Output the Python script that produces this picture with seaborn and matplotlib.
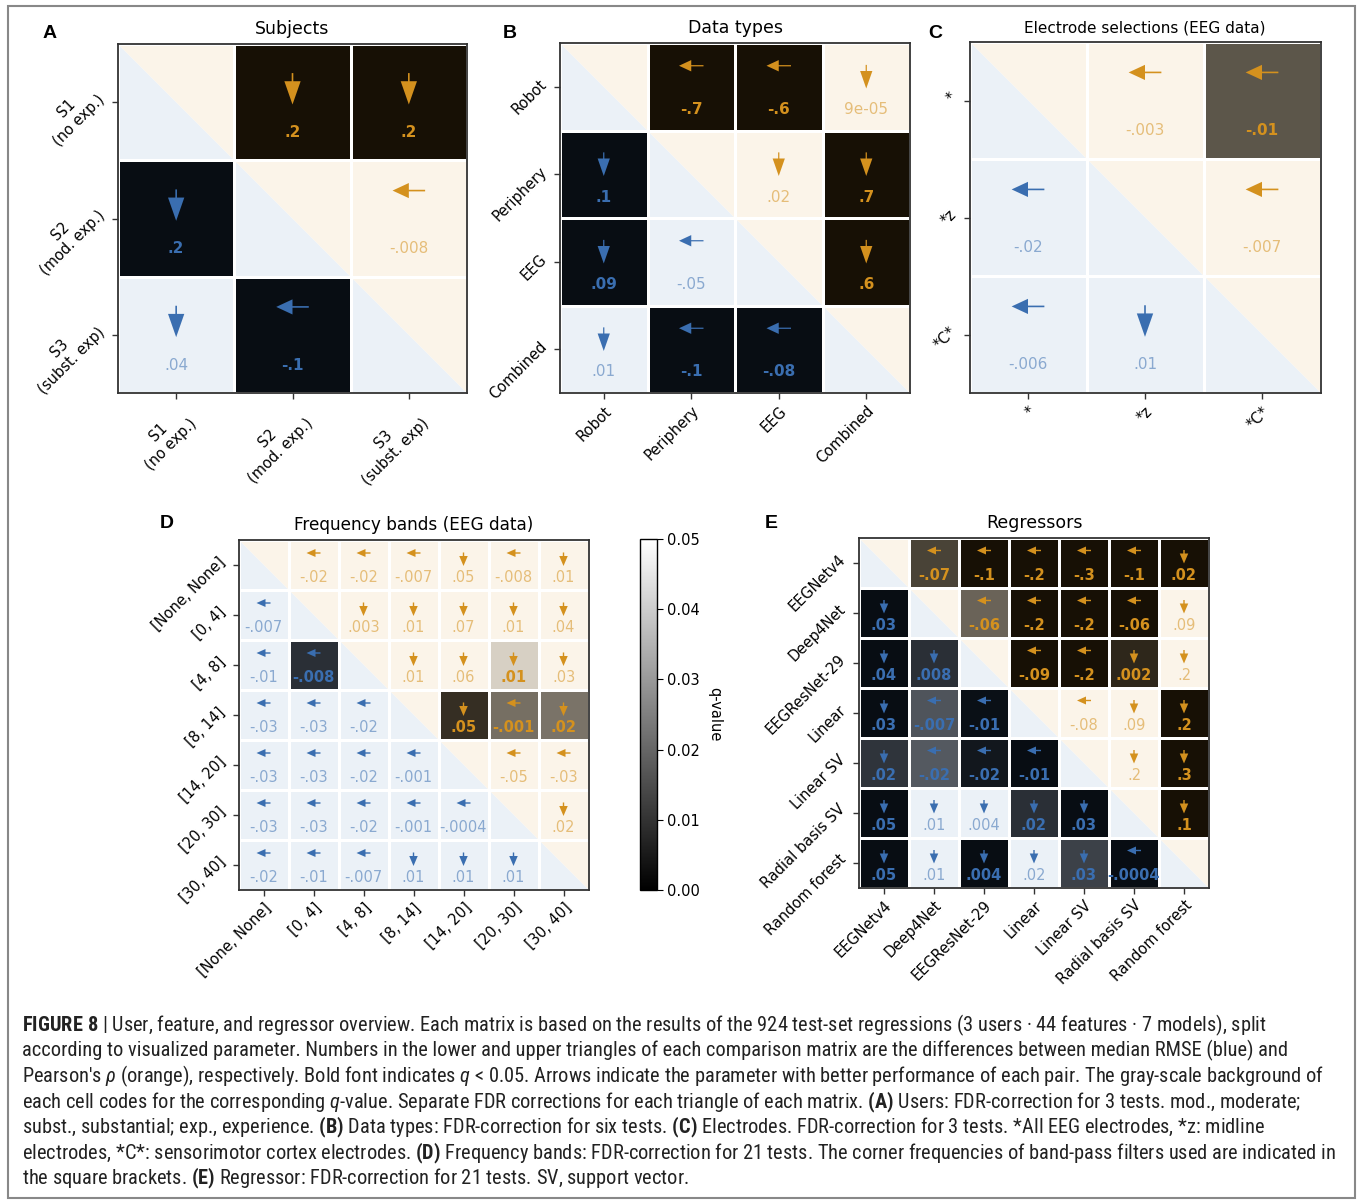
import numpy as np
import seaborn as sns
import matplotlib.pyplot as plt
import matplotlib.font_manager as fm
from matplotlib.colors import LinearSegmentedColormap, Normalize, to_rgb
from matplotlib.patches import Polygon, Rectangle
from matplotlib.cm import ScalarMappable

# lower triangle: median RMSE differences (blue), upper: Pearson rho differences (orange)
# q: FDR-corrected q-values (>= 0.05 -> not significant)
subj_labels = ['S1\n(no exp.)', 'S2\n(mod. exp.)', 'S3\n(subst. exp)']
subj_diff = [[None, .2, .2],
             [.2, None, -.008],
             [.04, -.1, None]]
subj_q = [[None, .0005, .0005],
          [.0005, None, .6],
          [.3, .0005, None]]

dtype_labels = ['Robot', 'Periphery', 'EEG', 'Combined']
dtype_diff = [[None, -.7, -.6, 9e-05],
              [.1, None, .02, .7],
              [.09, -.05, None, .6],
              [.01, -.1, -.08, None]]
dtype_q = [[None, .0005, .0005, .9],
           [.0005, None, .2, .0005],
           [.0005, .1, None, .0005],
           [.6, .0005, .0005, None]]

elec_labels = ['*', '*z', '*C*']
elec_diff = [[None, -.003, -.01],
             [-.02, None, -.007],
             [-.006, .01, None]]
elec_q = [[None, .4, .0155],
          [.1, None, .3],
          [.5, .2, None]]

freq_labels = ['[None, None]', '[0, 4]', '[4, 8]', '[8, 14]', '[14, 20]', '[20, 30]', '[30, 40]']
freq_diff = [[None, -.02, -.02, -.007, .05, -.008, .01],
             [-.007, None, .003, .01, .07, .01, .04],
             [-.01, -.008, None, .01, .06, .01, .03],
             [-.03, -.03, -.02, None, .05, -.001, .02],
             [-.03, -.03, -.02, -.001, None, -.05, -.03],
             [-.03, -.03, -.02, -.001, -.0004, None, .02],
             [-.02, -.01, -.007, .01, .01, .01, None]]
freq_q = [[None, .3, .3, .3, .3, .3, .3],
          [.3, None, .3, .3, .3, .3, .3],
          [.3, .0079, None, .3, .3, .042, .3],
          [.3, .3, .3, None, .007, .021, .022],
          [.3, .3, .3, .3, None, .3, .3],
          [.3, .3, .3, .3, .3, None, .3],
          [.3, .3, .3, .3, .3, .3, None]]

reg_labels = ['EEGNetv4', 'Deep4Net', 'EEGResNet-29', 'Linear', 'Linear SV',
              'Radial basis SV', 'Random forest']
reg_diff = [[None, -.07, -.1, -.2, -.3, -.1, .02],
            [.03, None, -.06, -.2, -.2, -.06, .09],
            [.04, .008, None, -.09, -.2, .002, .2],
            [.03, -.007, -.01, None, -.08, .09, .2],
            [.02, -.02, -.02, -.01, None, .2, .3],
            [.05, .01, .004, .02, .03, None, .1],
            [.05, .01, .004, .02, .03, -.0004, None]]
reg_q = [[None, .0115, .0005, .0005, .0005, .0005, .0005],
         [.0005, None, .0185, .0005, .0005, .0005, .3],
         [.0005, .0079, None, .0005, .0005, .0054, .3],
         [.0005, .016, .001, None, .3, .3, .0005],
         [.009, .017, .0027, .0005, None, .3, .0005],
         [.0005, .3, .3, .008, .0005, None, .0005],
         [.0005, .3, .0005, .3, .0118, .0005, None]]

BLUE = '#3a6eb0'
ORANGE = '#d4911e'
TINT = 0.1
QMAX = 0.05
W, H = 1357, 1201

names = {f.name for f in fm.fontManager.ttflist}
cap_font = 'Liberation Sans'
for cand in ['Liberation Sans Narrow', 'Roboto Condensed', 'Open Sans Condensed']:
    if cand in names:
        cap_font = cand
        break
plt.rcParams['font.family'] = ['DejaVu Sans']
plt.rcParams['mathtext.fontset'] = 'custom'
plt.rcParams['mathtext.rm'] = cap_font
plt.rcParams['mathtext.it'] = cap_font + ':italic'
plt.rcParams['mathtext.bf'] = cap_font + ':bold'


def tinted(color, g):
    c = np.array(to_rgb(color))
    return (1 - TINT) * g + TINT * c


def tinted_cmap(color):
    return LinearSegmentedColormap.from_list('t', [tinted(color, 0.0), tinted(color, 1.0)])


def fmt(v):
    s = f'{v:.1g}'
    if 'e' not in s:
        s = s.replace('0.', '.', 1)
    return s


def draw_matrix(ax, labels, diff, q, title, title_fs, val_fs):
    d = np.array(diff, dtype=float)
    qq = np.clip(np.array(q, dtype=float), 0, QMAX)
    n = len(labels)
    low = np.tril(np.ones((n, n), bool), -1)
    up = np.triu(np.ones((n, n), bool), 1)
    sns.heatmap(qq, mask=~low, cmap=tinted_cmap(BLUE), vmin=0, vmax=QMAX, cbar=False,
                linewidths=1.8, linecolor='white', square=True, ax=ax,
                xticklabels=labels, yticklabels=labels)
    sns.heatmap(qq, mask=~up, cmap=tinted_cmap(ORANGE), vmin=0, vmax=QMAX, cbar=False,
                linewidths=1.8, linecolor='white', square=True, ax=ax,
                xticklabels=labels, yticklabels=labels)
    ax.add_patch(Polygon([(0, 0), (0, n), (n, n)], closed=True,
                         fc=tinted(BLUE, 1.0), ec='none', zorder=0.5))
    ax.add_patch(Polygon([(0, 0), (n, 0), (n, n)], closed=True,
                         fc=tinted(ORANGE, 1.0), ec='none', zorder=0.5))
    small = n >= 6
    aw = 0.028 if small else 0.014
    hw = 0.17 if small else 0.14
    for i in range(n):
        for j in range(n):
            if i == j:
                continue
            col = BLUE if i > j else ORANGE
            v = d[i, j]
            if v >= 0:
                ax.arrow(j + 0.5, i + 0.25, 0, 0.27, width=aw, head_width=hw,
                         head_length=0.2, length_includes_head=True,
                         fc=col, ec='none', zorder=3)
            else:
                ax.arrow(j + 0.64, i + 0.26, -0.28, 0, width=aw, head_width=hw - 0.01,
                         head_length=0.18 if small else 0.14, length_includes_head=True,
                         fc=col, ec='none', zorder=3)
            sig = q[i][j] < QMAX
            ax.text(j + 0.5, i + 0.76, fmt(v), ha='center', va='center',
                    fontsize=val_fs, color=col, alpha=1.0 if sig else 0.55,
                    fontweight='bold' if sig else 'normal', zorder=4)
    for sp in ax.spines.values():
        sp.set_visible(True)
        sp.set_color('#333333')
        sp.set_linewidth(1.3)
    ax.tick_params(length=4, width=1, color='#333333', labelsize=10.5)
    plt.setp(ax.get_xticklabels(), rotation=45, ha='right', rotation_mode='anchor',
             multialignment='center')
    plt.setp(ax.get_yticklabels(), rotation=45, ha='right', va='bottom',
             rotation_mode='anchor', multialignment='center')
    ax.set_title(title, fontsize=title_fs, pad=7)


def box(x0, y0, x1, y1):
    return [x0 / W, 1 - y1 / H, (x1 - x0) / W, (y1 - y0) / H]


fig = plt.figure(figsize=(W / 100, H / 100), dpi=100)
axA = fig.add_axes(box(118, 44, 467, 393))
axB = fig.add_axes(box(560, 43, 910, 393))
axC = fig.add_axes(box(969, 42, 1321, 393))
axD = fig.add_axes(box(238, 540, 589, 890))
axE = fig.add_axes(box(859, 537, 1209, 888))
cax = fig.add_axes(box(640, 539, 657, 890))

draw_matrix(axA, subj_labels, subj_diff, subj_q, 'Subjects', 12.5, 11)
draw_matrix(axB, dtype_labels, dtype_diff, dtype_q, 'Data types', 12.5, 11)
draw_matrix(axC, elec_labels, elec_diff, elec_q, 'Electrode selections (EEG data)', 11, 11)
draw_matrix(axD, freq_labels, freq_diff, freq_q, 'Frequency bands (EEG data)', 12.2, 10.5)
draw_matrix(axE, reg_labels, reg_diff, reg_q, 'Regressors', 12.5, 10.5)

cb = fig.colorbar(ScalarMappable(norm=Normalize(0, QMAX), cmap='gray'), cax=cax)
cb.set_ticks([0, .01, .02, .03, .04, .05])
cb.ax.set_yticklabels(['0.00', '0.01', '0.02', '0.03', '0.04', '0.05'])
cb.ax.tick_params(labelsize=10.5, length=4)
cb.outline.set_linewidth(1)
cb.set_label('q-value', rotation=270, fontsize=10.5, labelpad=16)

for letter, x, y in [('A', 50, 33), ('B', 510, 33), ('C', 935, 33), ('D', 167, 523), ('E', 771, 523)]:
    fig.text(x / W, 1 - y / H, letter, ha='center', va='center', fontsize=14,
             fontweight='bold', family=['Liberation Sans', 'DejaVu Sans'])

caption = [
    r'$\mathbf{FIGURE\ 8}$ | User, feature, and regressor overview. Each matrix is based on the results of the 924 test-set regressions (3 users · 44 features · 7 models), split',
    r'according to visualized parameter. Numbers in the lower and upper triangles of each comparison matrix are the differences between median RMSE (blue) and',
    r"Pearson's $\rho$ (orange), respectively. Bold font indicates $q$ < 0.05. Arrows indicate the parameter with better performance of each pair. The gray-scale background of",
    r'each cell codes for the corresponding $q$-value. Separate FDR corrections for each triangle of each matrix. $\mathbf{(A)}$ Users: FDR-correction for 3 tests. mod., moderate;',
    r'subst., substantial; exp., experience. $\mathbf{(B)}$ Data types: FDR-correction for six tests. $\mathbf{(C)}$ Electrodes. FDR-correction for 3 tests. *All EEG electrodes, *z: midline',
    r'electrodes, *C*: sensorimotor cortex electrodes. $\mathbf{(D)}$ Frequency bands: FDR-correction for 21 tests. The corner frequencies of band-pass filters used are indicated in',
    r'the square brackets. $\mathbf{(E)}$ Regressor: FDR-correction for 21 tests. SV, support vector.',
]
line_y = [1025, 1050, 1076, 1102, 1127, 1153, 1178]
texts = [fig.text(22 / W, 1 - y / H, s, ha='left', va='center', fontsize=12,
                  color='#222222', family=[cap_font, 'DejaVu Sans'])
         for s, y in zip(caption, line_y)]
fig.canvas.draw()
wmax = max(t.get_window_extent().width for t in texts)
scale = 1310 / wmax
for t in texts:
    t.set_fontsize(12 * scale)

fig.add_artist(Rectangle((8 / W, 1 - 1198 / H), 1347 / W, 1192 / H, transform=fig.transFigure,
                         fill=False, ec='#888888', lw=1.5))

fig.savefig('out.png', dpi=100)
